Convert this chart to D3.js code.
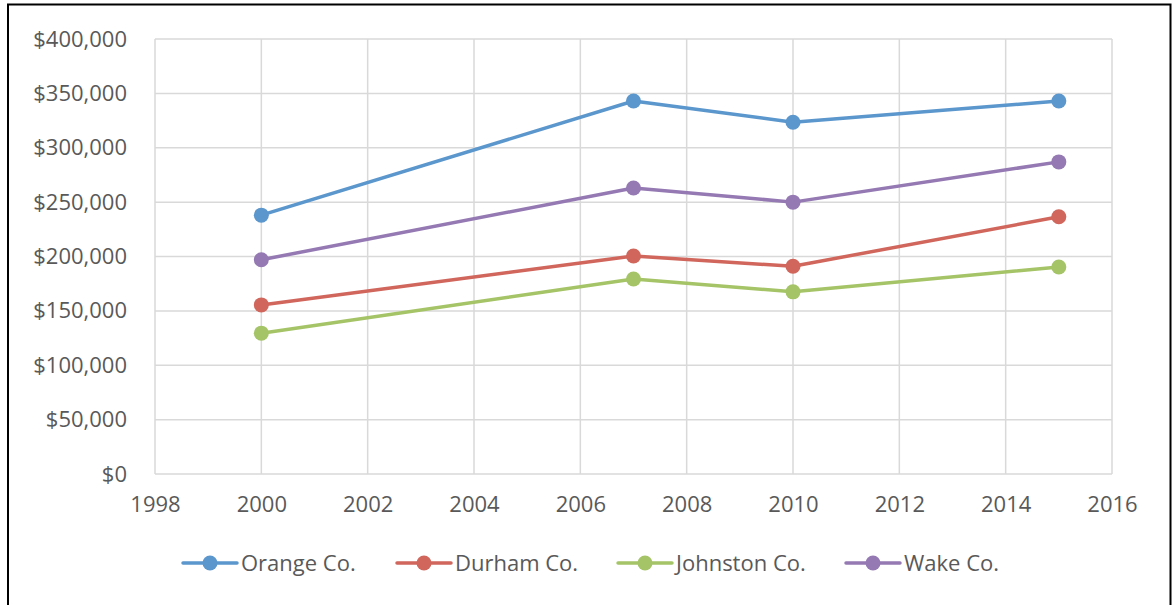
<!DOCTYPE html>
<html>
<head>
<meta charset="utf-8">
<script src="https://cdn.jsdelivr.net/npm/d3@7"></script>
<style>
  body { margin: 0; background: #fff; }
  svg { display: block; }
</style>
</head>
<body>
<svg id="chart" width="1174" height="605"></svg>
<script>
// values
const years = [2000, 2007, 2010, 2015];
const orange = [238000, 343000, 323500, 343000];
const durham = [155500, 200500, 191000, 236500];
const johnston = [129500, 179300, 167500, 190300];
const wake = [197000, 263000, 250000, 287000];
const seriesNames = ["Orange Co.", "Durham Co.", "Johnston Co.", "Wake Co."];
const xTicks = [1998, 2000, 2002, 2004, 2006, 2008, 2010, 2012, 2014, 2016];
const yTicks = [0, 50000, 100000, 150000, 200000, 250000, 300000, 350000, 400000];

const colors = ["#5b96cc", "#d0665c", "#a5c467", "#9479b3"];
const FONT = "'Open Sans', Lato, sans-serif";
const TEXT = "#595959";

const svg = d3.select("#chart");
const margin = { left: 155, right: 1112, top: 39, bottom: 474 };

// outer frame
svg.append("rect")
  .attr("x", 8).attr("y", 4.5)
  .attr("width", 1162.5).attr("height", 640)
  .attr("fill", "none").attr("stroke", "#000").attr("stroke-width", 2);

const x = d3.scaleLinear().domain([1998, 2016]).range([margin.left, margin.right]);
const y = d3.scaleLinear().domain([0, 400000]).range([margin.bottom, margin.top]);

const grid = svg.append("g").attr("class", "grid");
grid.selectAll("line.h").data(yTicks).join("line")
  .attr("class", "h")
  .attr("x1", margin.left).attr("x2", margin.right)
  .attr("y1", d => y(d)).attr("y2", d => y(d))
  .attr("stroke", "#d9d9d9").attr("stroke-width", 1.5);
grid.selectAll("line.v").data(xTicks).join("line")
  .attr("class", "v")
  .attr("x1", d => x(d)).attr("x2", d => x(d))
  .attr("y1", margin.top).attr("y2", margin.bottom)
  .attr("stroke", "#d9d9d9").attr("stroke-width", 1.5);

// axes (labels only, lines come from the grid)
const fmt = d => "$" + d3.format(",")(d);
const yAxis = svg.append("g")
  .attr("transform", `translate(${margin.left},0)`)
  .call(d3.axisLeft(y).tickValues(yTicks).tickFormat(fmt).tickSize(0).tickPadding(28));
const xAxis = svg.append("g")
  .attr("transform", `translate(0,${margin.bottom})`)
  .call(d3.axisBottom(x).tickValues(xTicks).tickFormat(d3.format("d")).tickSize(0).tickPadding(22));
[yAxis, xAxis].forEach(a => {
  a.select(".domain").remove();
  a.selectAll("text")
    .attr("fill", TEXT)
    .style("font-family", FONT)
    .style("font-size", "22px");
});

const data = [orange, durham, johnston, wake].map((vals, i) => ({
  name: seriesNames[i],
  color: colors[i],
  points: vals.map((v, j) => ({ year: years[j], value: v }))
}));

const line = d3.line().x(d => x(d.year)).y(d => y(d.value));

const series = svg.append("g").selectAll("g").data(data).join("g");
series.append("path")
  .attr("d", d => line(d.points))
  .attr("fill", "none")
  .attr("stroke", d => d.color)
  .attr("stroke-width", 3.5)
  .attr("stroke-linejoin", "round");
series.selectAll("circle")
  .data(d => d.points.map(p => ({ ...p, color: d.color })))
  .join("circle")
  .attr("cx", d => x(d.year))
  .attr("cy", d => y(d.value))
  .attr("r", 7.5)
  .attr("fill", d => d.color);

// legend
const legendX = [183, 397, 618, 846];
const legend = svg.append("g").selectAll("g").data(data).join("g")
  .attr("transform", (d, i) => `translate(${legendX[i]},563)`);
legend.append("line")
  .attr("x1", 0).attr("x2", 54)
  .attr("stroke", d => d.color).attr("stroke-width", 3.5)
  .attr("stroke-linecap", "round");
legend.append("circle")
  .attr("cx", 27).attr("r", 7.5)
  .attr("fill", d => d.color);
legend.append("text")
  .attr("x", 58).attr("dy", "0.35em")
  .attr("fill", TEXT)
  .style("font-family", FONT)
  .style("font-size", "22px")
  .text(d => d.name);
</script>
</body>
</html>
